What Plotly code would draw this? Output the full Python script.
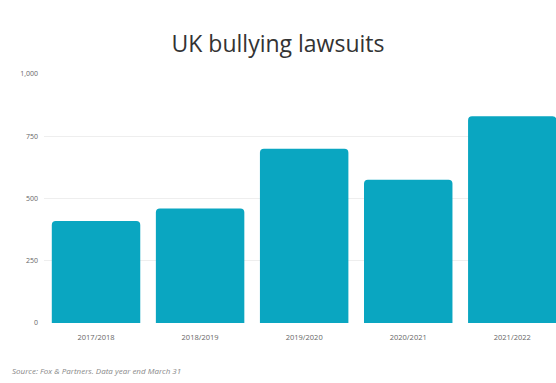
import plotly.graph_objects as go

categories = ["2017/2018", "2018/2019", "2019/2020", "2020/2021", "2021/2022"]
lawsuits = [410, 460, 700, 575, 830]
y_ticks = [0, 250, 500, 750, 1000]
y_tick_labels = ["0", "250", "500", "750", "1,000"]

fig = go.Figure(go.Bar(
    x=categories, y=lawsuits,
    marker=dict(color="#0AA6C1", cornerradius=4, line=dict(width=0)),
    width=0.85,
))

fig.update_layout(
    width=556, height=383,
    margin=dict(l=44, r=0, t=74, b=60),
    paper_bgcolor="white", plot_bgcolor="white",
    title=dict(text="UK bullying lawsuits", x=0.5, xanchor="center", y=0.885, yanchor="middle",
               font=dict(family="Open Sans", size=23, color="#333333")),
    showlegend=False,
    font=dict(family="Open Sans", color="#777777"),
)
fig.update_xaxes(
    type="category", range=[-0.5, 4.42], showgrid=False, showline=False, ticks="",
    tickfont=dict(size=7.5, color="#666666"), ticklabelstandoff=8,
)
fig.update_yaxes(
    range=[0, 1000], tickvals=y_ticks, ticktext=y_tick_labels,
    showgrid=True, gridcolor="#EEEEEE", gridwidth=1, zeroline=False, showline=False,
    tickfont=dict(size=7, color="#666666"), ticks="", ticklabelstandoff=5,
)
fig.add_annotation(
    text="<i>Source: Fox & Partners. Data year end March 31</i>",
    xref="paper", yref="paper", x=-34/512, y=-0.19, xanchor="left", yanchor="middle",
    showarrow=False, font=dict(family="Open Sans", size=8, color="#888888"),
)

fig.write_html("out.html")
